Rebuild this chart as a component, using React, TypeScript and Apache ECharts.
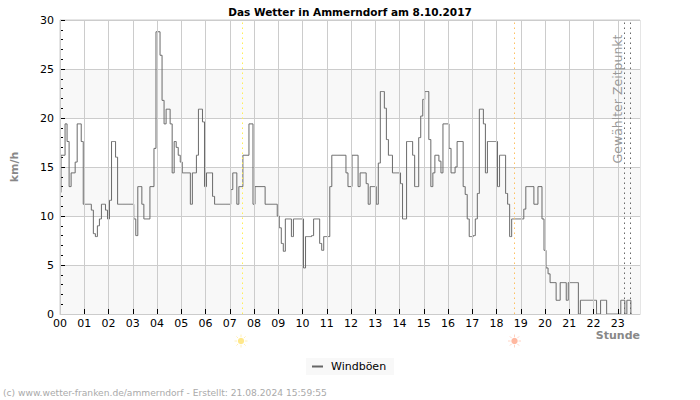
import React, { useEffect, useRef } from "react";
import * as echarts from "echarts";

const hourLabels = ["00","01","02","03","04","05","06","07","08","09","10","11","12","13","14","15","16","17","18","19","20","21","22","23"];
const yTicks = [0, 5, 10, 15, 20, 25, 30];
const h00_05 = [
  12.4,16.2,16.2,19.4,17.6,13,14.4,14.4,15.5,19.4,19.4,17.6,
  11.2,11.2,11.2,11.2,10.6,8.2,7.9,9,9.7,11.2,11.2,10.6,
  9.7,11.6,17.6,17.6,16,11.2,11.2,11.2,11.2,11.2,11.2,11.2,
  11.2,9.7,8,13,13,11.2,9.7,9.7,9.7,13,13,16.9,
  28.8,28.8,26.4,21.8,19.4,20.9,20.9,19.4,14.4,17.6,17,16.2,
  15.5,14.4,14.4,14.4,14.4,11.2,14.4,14.4,16.2,20.9,20.9,19.6,
];
const h06_11 = [
  13,14.4,14.4,14.4,12,11.2,11.2,11.2,11.2,11.2,11.2,11.2,
  11.2,12.7,14.4,14.4,11.2,13,13,16.2,16.2,16.2,19.4,19.4,
  11.2,13,13,13,13,13,11.2,11.2,11.2,11.2,11.2,11.2,
  10,8.8,7.2,6.4,9.7,9.7,9.7,7.9,9.7,9.7,9.7,9.7,
  9.7,4.7,7.9,7.9,7.9,8,9.7,9.7,9.7,7.2,6.5,7.9,
  7.9,7.9,13,16.2,16.2,16.2,16.2,16.2,16.2,16.2,14.4,13,
];
const h12_17 = [
  13,16.2,16.2,16.2,13,14.4,14.4,14.4,13.3,11.2,13,13,
  13,11.2,15.4,22.7,22.7,21,17.8,16.2,16.2,14.4,14.4,14.4,
  14.4,13.3,9.7,9.7,17.6,17.6,17.6,16.2,13,13,18,20.2,
  21.9,22.7,22.7,17.8,13,14.4,16.2,16.2,15.6,14.4,19.4,19.4,
  19.4,16.9,14.4,14.4,15,17.6,17.6,17.6,13,12.2,9.7,7.9,
  7.9,8,9.7,12.3,20.9,20.9,19.4,14.4,17.6,17.6,17.6,17.6,
];
const h18_23 = [
  17.6,13,16.2,16.2,16.2,12.3,11.2,7.9,9.7,9.7,9.7,9.7,
  9.7,9.7,10.7,13,13,13,13,11.2,11.2,13,13,9.7,
  6.5,4.7,4.1,3.2,3.2,3.2,1.4,1.4,3.2,3.2,3.2,1.4,
  3.2,3.2,3.2,3.2,3.2,0,1.4,1.4,1.4,1.4,1.4,1.4,
  1.4,1.4,0,0,1.4,1.4,1.4,0,0,0,0,0,
  0,0,1.4,1.4,0,1.4,1.4,0,
];
const windGusts = [...h00_05, ...h06_11, ...h12_17, ...h18_23];
const sunriseIndex = 90;
const sunsetIndex = 225;
const selectedIndexes = [279, 282];
const stepsPerHour = 12;
const categories = hourLabels.flatMap((h) =>
  Array.from({ length: stepsPerHour }, (_, i) => `${h}:${String(i * 5).padStart(2, "0")}`)
);

function sun(cx: number, cy: number, core: string, ray: string) {
  const rays = Array.from({ length: 8 }, (_, i) => {
    const a = (i * Math.PI) / 4;
    return {
      type: "line",
      shape: { x1: cx + 4 * Math.cos(a), y1: cy + 4 * Math.sin(a), x2: cx + 6.5 * Math.cos(a), y2: cy + 6.5 * Math.sin(a) },
      style: { stroke: ray, lineWidth: 1 },
    };
  });
  return { type: "group", children: [...rays, { type: "circle", shape: { cx, cy, r: 3.2 }, style: { fill: core } }] };
}

export default function App() {
  const ref = useRef<HTMLDivElement>(null);
  useEffect(() => {
    const chart = echarts.init(ref.current!, undefined, { renderer: "svg" });
    const font = "'DejaVu Sans'";
    const hourly = (i: number) => i % stepsPerHour === 0;
    chart.setOption({
      animation: false,
      textStyle: { fontFamily: font },
      title: {
        text: "Das Wetter in Ammerndorf am 8.10.2017",
        left: "center",
        top: 1,
        textStyle: { fontFamily: font, fontSize: 10.5, fontWeight: "bold", color: "#000" },
      },
      grid: { left: 60, right: 60, top: 20, bottom: 86, show: true, borderColor: "#ccc", borderWidth: 1, backgroundColor: "transparent", outerBoundsMode: "none" },
      legend: {
        left: 306,
        top: 358,
        padding: [3, 8, 3, 6],
        backgroundColor: "#f8f8f8",
        itemWidth: 11,
        itemHeight: 2,
        itemGap: 0,
        icon: "rect",
        textStyle: { fontFamily: font, fontSize: 11, color: "#000", padding: [0, 0, 0, 3] },
        data: ["Windböen"],
      },
      xAxis: {
        type: "category",
        data: categories,
        boundaryGap: false,
        z: 5,
        axisLine: { lineStyle: { color: "#ccc", width: 1 } },
        axisTick: { show: true, inside: true, length: 5, alignWithLabel: true, interval: (i: number) => hourly(i) && i > 0, lineStyle: { color: "#000" } },
        axisLabel: { interval: (i: number) => hourly(i), formatter: (v: string) => v.slice(0, 2), color: "#000", fontSize: 11, margin: 4, fontFamily: font },
        splitLine: { show: true, interval: (i: number) => hourly(i), lineStyle: { color: "#ccc", width: 1 } },
      },
      yAxis: {
        type: "value",
        min: yTicks[0],
        max: yTicks[yTicks.length - 1],
        interval: yTicks[1],
        name: "km/h",
        nameLocation: "middle",
        nameGap: 40,
        nameRotate: 90,
        nameTextStyle: { fontFamily: font, fontSize: 11, fontWeight: "bold", color: "#888" },
        axisLine: { show: true, lineStyle: { color: "#ccc" } },
        axisTick: { show: true, inside: true, length: 5, lineStyle: { color: "#000" } },
        minorTick: { show: true, splitNumber: 5, length: 3, lineStyle: { color: "#000" } },
        axisLabel: { color: "#000", fontSize: 11, margin: 6, fontFamily: font },
        splitLine: { show: true, lineStyle: { color: "#ccc", width: 1 } },
        splitArea: { show: true, areaStyle: { color: ["#f8f8f8", "#ffffff"] } },
      },
      series: [
        {
          name: "Windböen",
          type: "line",
          step: "middle",
          data: windGusts,
          showSymbol: false,
          itemStyle: { color: "#666" },
          lineStyle: { color: "#6a6a6a", width: 1 },
          markLine: {
            silent: true,
            symbol: "none",
            label: { show: false },
            data: [
              { xAxis: sunriseIndex, lineStyle: { color: "#ffee55", type: [1.5, 3.5], width: 1 } },
              { xAxis: sunsetIndex, lineStyle: { color: "#ffc060", type: [1.5, 3.5], width: 1 } },
              ...selectedIndexes.map((i) => ({ xAxis: i, lineStyle: { color: "#666", type: [1.5, 3.5], width: 1 } })),
            ],
          },
        },
      ],
      graphic: [
        sun(241, 341, "#ffe88a", "#fff0b8"),
        sun(514.5, 341, "#ffb8a0", "#ffd4c4"),
        {
          type: "text",
          z: 10,
          x: 617,
          y: 99,
          rotation: Math.PI / 2,
          style: { text: "Gewählter Zeitpunkt", fill: "#999", font: `12.5px ${font}`, align: "center", verticalAlign: "middle" },
        },
        {
          type: "text",
          z: 10,
          x: 640,
          y: 330,
          style: { text: "Stunde", fill: "#888", font: `bold 11px ${font}`, align: "right", verticalAlign: "top" },
        },
        {
          type: "text",
          z: 10,
          x: 3,
          y: 388,
          style: { text: "(c) www.wetter-franken.de/ammerndorf - Erstellt: 21.08.2024 15:59:55", fill: "#aaa", font: `9.15px ${font}`, verticalAlign: "top" },
        },
      ],
    });
    return () => chart.dispose();
  }, []);
  return <div ref={ref} style={{ position: "fixed", left: 0, top: 0, width: 700, height: 400, background: "#fff" }} />;
}
